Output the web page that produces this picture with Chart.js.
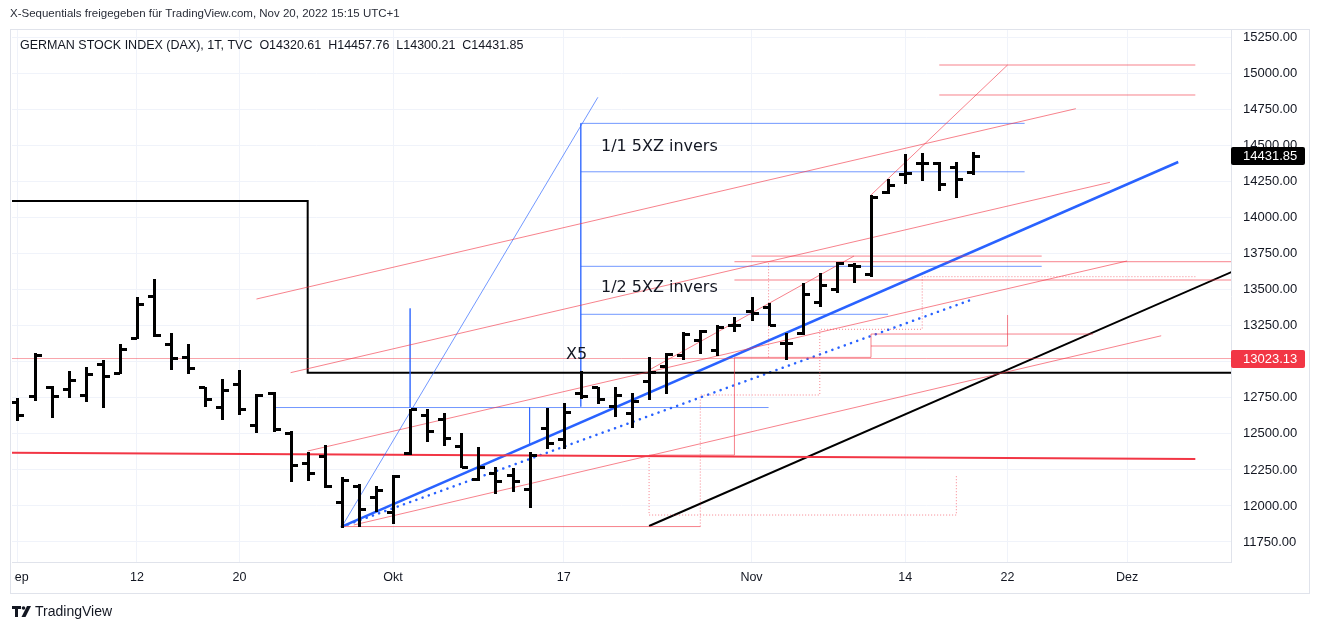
<!DOCTYPE html>
<html>
<head>
<meta charset="utf-8">
<script src="https://cdn.jsdelivr.net/npm/chart.js@4.4.1/dist/chart.umd.min.js"></script>
<style>
  html, body { margin: 0; padding: 0; background: #fff; }
  canvas { display: block; }
</style>
</head>
<body>
<canvas id="chart" width="1320" height="632"></canvas>
<script>
// DAX daily bars, index 0 = 1 Sep 2022 (trading days only)
const opens  = [12719,12765,12827,12809,12770,12985,12925,13167,13457,13124,13036,12823,12689,12846,12562,12782,12508,12296,12347,12029,12138,12060,
                11960,12369,12631,12601,12416,12185,12226,12215,12115,12539,12462,12786,12823,12693,12643,12869,12971,13047,13151,13082,13256,
                13355,13383,13129,13202,13417,13503,13672,13610,14181,14305,14382,14382,14350,14320.61];
const highs  = [12747,13059,12832,12938,12962,13013,13124,13448,13573,13198,13124,12827,12879,12943,12777,12789,12522,12376,12423,12203,12152,12138,
                12215,12673,12671,12647,12504,12411,12268,12261,12376,12677,12716,12938,12827,12823,12782,13031,13059,13209,13221,13256,13313,
                13448,13410,13202,13549,13614,13695,13688,14158,14267,14442,14447,14389,14389,14457.76];
const lows   = [12596,12735,12615,12758,12730,12684,12920,13163,13181,12948,12925,12693,12605,12638,12515,12522,12175,12180,12133,11856,11861,11967,
                11884,12360,12451,12423,12268,12180,12092,12106,11995,12400,12400,12747,12712,12624,12546,12740,12786,13017,13059,13047,13216,
                13290,13256,13017,13193,13387,13487,13556,13596,14170,14239,14262,14192,14146,14300.21];
const closes = [12630,13050,12761,12871,12916,12904,13088,13402,13189,13028,12956,12741,12803,12671,12767,12531,12284,12228,12140,12183,11976,12114,
                12209,12670,12517,12470,12273,12272,12170,12172,12355,12437,12649,12765,12741,12767,12731,12931,13052,13196,13211,13243,13253,
                13338,13257,13130,13470,13533,13688,13666,14146,14224,14313,14378,14234,14266,14431.85];

// time axis: trading-day index and label
const timeTickIdx = [0, 7, 13, 22, 32, 43, 52, 58, 65];
const timeTickLabels = ['Sep', '12', '20', 'Okt', '17', 'Nov', '14', '22', 'Dez'];
const priceTicks = [11750,12000,12250,12500,12750,13000,13250,13500,13750,14000,14250,14500,14750,15000,15250];

// drawings, as [trading-day index, price]
const blackStep   = [[-2,14116],[17,14116],[17,12925],[80,12925]];
const redBase     = [[-2,12370],[69,12326]];
const priceLine   = [[-2,13023.13],[80,13023.13]];
const blueTrend   = [[19,11856],[68,14387]];
const blueDotted  = [[19,11856],[56,13436]];
const blueSteep   = [[19,11856],[34,14836]];
const blackTrend  = [[37,11861],[75,13824]];
const channel1    = [[14,13436],[62,14757]];
const channel2    = [[16,12925],[64,14246]];
const channel3    = [[19.7,11868],[67,13181]];
const channel4    = [[17,12381],[65,13700]];
const steepRed    = [[50,14158],[58,15060]];
const swingRed    = [[37,12943],[49,13734]];
const topLevel1   = [[54,15060],[69,15060]];
const topLevel2   = [[54,14852],[69,14852]];
const boxSide     = [[33,14655],[33,12689]];
const boxTop      = [[33,14655],[59,14655]];
const boxFull     = [[33,14319],[59,14319]];
const boxHalf     = [[33,13663],[60,13663]];
const boxLow      = [[33,13330],[51,13330]];
const blueBase    = [[15,12683],[44,12683]];
const blueV1      = [[23,13371],[23,12683]];
const blueV2      = [[30,12683],[30,12423]];
const redLevel1   = [[43,13734],[60,13734]];
const redLevel2   = [[42,13695],[80,13695]];
const redLevel3   = [[42,13568],[80,13568]];
const redStairs   = [[37,12353],[42,12353],[42,13031],[50,13031],[50,13193],[63,13193]];
const redBox      = [[50,13110],[58,13110],[58,13325]];
const redLow      = [[19,11857],[40,11857]];
const dotStairs   = [[40,11857],[40,12770],[47,12770],[47,13226],[53,13226],[53,13591],[69,13591]];
const dotVert     = [[44,13684],[44,13024]];
const dotLow      = [[37,12353],[37,11937],[55,11937],[55,12215]];

const noteTexts = ['1/1 5XZ invers', '1/2 5XZ invers', 'X5'];
const notePos   = [[34.18,14491],[34.18,13512],[32.75,13047]];

const badgeValues = [14431.85, 13023.13];

const RED_THIN = 'rgba(242,54,69,0.62)';
const BLUE_THIN = 'rgba(41,98,255,0.66)';

function seg(points, color, width, dash, cap) {
  return {
    data: points.map(([x, y]) => ({ x, y })),
    borderColor: color,
    borderWidth: width,
    borderDash: dash || [],
    borderCapStyle: cap || 'butt',
    pointRadius: 0,
    fill: false,
    tension: 0
  };
}

const datasets = [
  seg(priceLine, 'rgba(242,54,69,0.45)', 1),
  seg(channel1, RED_THIN, 1),
  seg(channel2, RED_THIN, 1),
  seg(channel3, RED_THIN, 1),
  seg(channel4, RED_THIN, 1),
  seg(steepRed, RED_THIN, 1),
  seg(swingRed, RED_THIN, 1),
  seg(topLevel1, RED_THIN, 1),
  seg(topLevel2, RED_THIN, 1),
  seg(redLevel1, RED_THIN, 1),
  seg(redLevel2, RED_THIN, 1),
  seg(redLevel3, RED_THIN, 1),
  seg(redStairs, RED_THIN, 1),
  seg(redBox, RED_THIN, 1),
  seg(redLow, RED_THIN, 1),
  seg(dotStairs, RED_THIN, 1, [1, 2]),
  seg(dotVert, RED_THIN, 1, [1, 2]),
  seg(dotLow, RED_THIN, 1, [1, 2]),
  seg(boxSide, BLUE_THIN, 1),
  seg(boxTop, BLUE_THIN, 1),
  seg(boxFull, BLUE_THIN, 1),
  seg(boxHalf, BLUE_THIN, 1),
  seg(boxLow, BLUE_THIN, 1),
  seg(blueBase, BLUE_THIN, 1),
  seg(blueV1, BLUE_THIN, 1),
  seg(blueV2, BLUE_THIN, 1),
  seg(blueSteep, BLUE_THIN, 1),
  seg(redBase, '#f23645', 2),
  seg(blackStep, '#000000', 2),
  seg(blackTrend, '#000000', 2),
  seg(blueDotted, '#2962ff', 2.5, [0.1, 6.5], 'round'),
  seg(blueTrend, '#2962ff', 2.5)
];

const ohlcPlugin = {
  id: 'ohlc',
  afterDatasetsDraw(chart) {
    const { ctx, chartArea, scales: { x, y } } = chart;
    ctx.save();
    ctx.beginPath();
    ctx.rect(chartArea.left, chartArea.top, chartArea.width, chartArea.height);
    ctx.clip();
    ctx.fillStyle = '#000';
    opens.forEach((o, i) => {
      const px = Math.round(x.getPixelForValue(i));
      const yh = Math.round(y.getPixelForValue(highs[i]));
      const yl = Math.round(y.getPixelForValue(lows[i]));
      const yo = Math.round(y.getPixelForValue(o));
      const yc = Math.round(y.getPixelForValue(closes[i]));
      ctx.fillRect(px - 1, yh, 3, Math.max(3, yl - yh + 1));
      ctx.fillRect(px - 6, yo - 1, 6, 3);
      ctx.fillRect(px + 1, yc - 1, 6, 3);
    });
    // text notes
    ctx.fillStyle = '#131722';
    ctx.font = '16px "DejaVu Sans"';
    ctx.textBaseline = 'middle';
    noteTexts.forEach((t, i) => {
      const [nx, ny] = notePos[i];
      ctx.textAlign = t === 'X5' ? 'center' : 'left';
      ctx.fillText(t, x.getPixelForValue(nx), y.getPixelForValue(ny));
    });
    ctx.restore();
  },
  afterDraw(chart) {
    const { ctx, chartArea, scales: { y } } = chart;
    ctx.save();
    // time labels are cut at the left frame edge
    ctx.fillStyle = '#fff';
    ctx.fillRect(0, chartArea.bottom + 1, 14.5, 30);
    // frame
    ctx.strokeStyle = '#e0e3eb';
    ctx.lineWidth = 1;
    ctx.strokeRect(10.5, 29.5, 1299, 564);
    // price badges
    ctx.font = '13px "Liberation Sans"';
    ctx.textBaseline = 'middle';
    ctx.textAlign = 'left';
    const badgeColors = ['#000000', '#f23645'];
    badgeValues.forEach((v, i) => {
      const by = Math.round(y.getPixelForValue(v));
      ctx.fillStyle = badgeColors[i];
      ctx.beginPath();
      ctx.roundRect(chartArea.right, by - 9, 74, 18, 2);
      ctx.fill();
      ctx.fillStyle = '#fff';
      ctx.fillText(v.toFixed(2), chartArea.right + 12, by + 0.5);
    });
    // header
    ctx.fillStyle = '#2a2e39';
    ctx.font = '11.5px "Liberation Sans"';
    ctx.fillText('X-Sequentials freigegeben für TradingView.com, Nov 20, 2022 15:15 UTC+1', 10, 14);
    ctx.fillStyle = '#131722';
    ctx.font = '12.5px "Liberation Sans"';
    ctx.fillText('GERMAN STOCK INDEX (DAX), 1T, TVC  O14320.61  H14457.76  L14300.21  C14431.85', 20, 46);
    // footer logo
    ctx.fillStyle = '#131722';
    ctx.fillRect(12, 606, 9, 3);
    ctx.fillRect(15, 606, 3, 11);
    ctx.beginPath();
    ctx.arc(23.5, 608, 1.8, 0, Math.PI * 2);
    ctx.fill();
    ctx.beginPath();
    ctx.moveTo(27, 606); ctx.lineTo(31, 606); ctx.lineTo(25.5, 617); ctx.lineTo(21.5, 617);
    ctx.closePath();
    ctx.fill();
    ctx.font = '500 14px "Liberation Sans"';
    ctx.fillText('TradingView', 35, 612);
    ctx.restore();
  }
};

new Chart(document.getElementById('chart'), {
  type: 'line',
  data: { datasets },
  plugins: [ohlcPlugin],
  options: {
    responsive: false,
    animation: false,
    events: [],
    layout: { padding: { left: 12, top: 30, right: 10, bottom: 39 } },
    plugins: { legend: { display: false }, tooltip: { enabled: false } },
    scales: {
      x: {
        type: 'linear',
        min: -0.322,
        max: 71.09,
        grid: { color: '#f0f3fa', drawTicks: false },
        border: { color: '#e0e3eb' },
        ticks: {
          autoSkip: false,
          maxRotation: 0,
          padding: 8,
          color: '#131722',
          font: { family: 'Liberation Sans', size: 12.5 },
          callback: (v, i) => timeTickLabels[i]
        },
        afterBuildTicks: s => { s.ticks = timeTickIdx.map(v => ({ value: v })); },
        afterFit: s => { s.height = 31; s.paddingLeft = 0; s.paddingRight = 0; }
      },
      y: {
        type: 'linear',
        position: 'right',
        min: 11611,
        max: 15303,
        grid: { color: '#f0f3fa', drawTicks: false },
        border: { color: '#e0e3eb' },
        ticks: {
          padding: 12,
          color: '#131722',
          font: { family: 'Liberation Sans', size: 13 },
          callback: v => v.toFixed(2)
        },
        afterBuildTicks: s => { s.ticks = priceTicks.map(v => ({ value: v })); },
        afterFit: s => { s.width = 79; s.paddingTop = 0; s.paddingBottom = 0; }
      }
    }
  }
});
</script>
</body>
</html>
